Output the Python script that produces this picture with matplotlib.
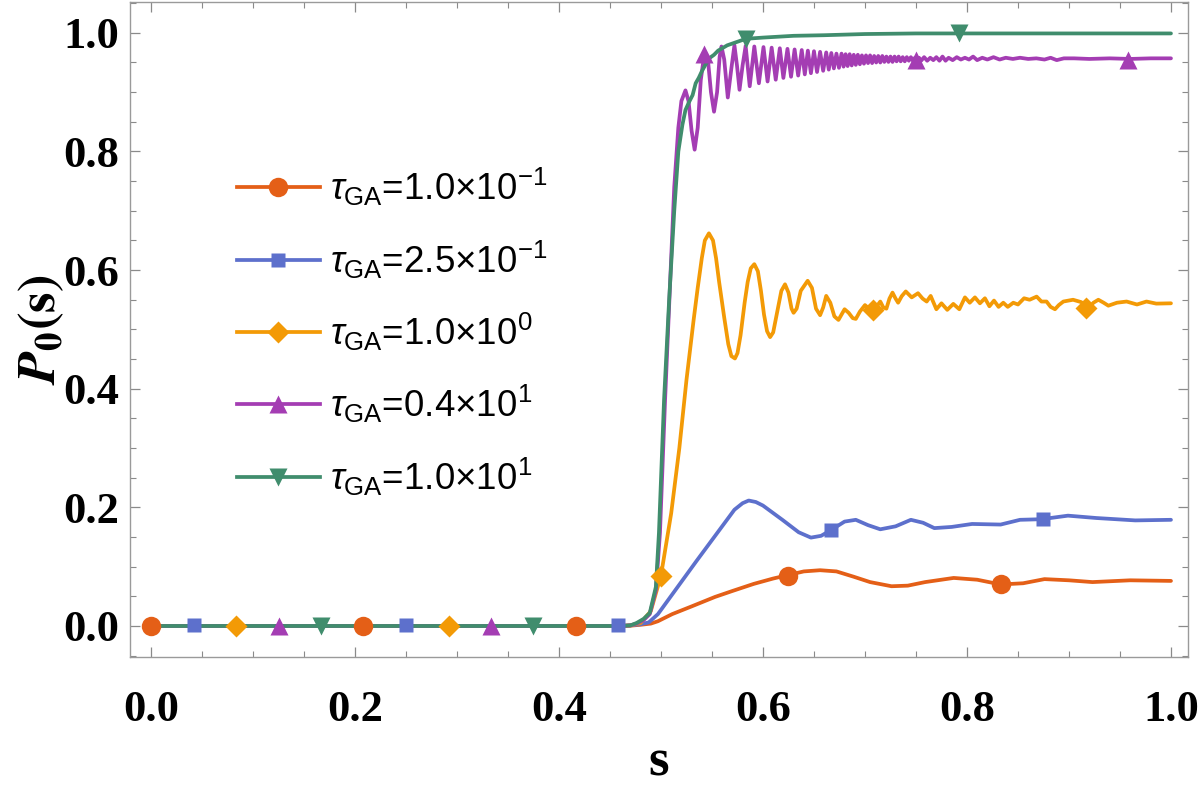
import matplotlib
matplotlib.use("Agg")
import matplotlib.pyplot as plt
from matplotlib.ticker import MultipleLocator, FormatStrFormatter

plt.rcParams['mathtext.fontset'] = 'custom'
plt.rcParams['mathtext.rm'] = 'Liberation Sans'
plt.rcParams['mathtext.it'] = 'Liberation Sans:italic'
plt.rcParams['mathtext.bf'] = 'Liberation Sans:bold'

# ---------------- data ----------------
labels = [r'$\tau_{\mathrm{GA}}$=1.0×10$^{-1}$',
          r'$\tau_{\mathrm{GA}}$=2.5×10$^{-1}$',
          r'$\tau_{\mathrm{GA}}$=1.0×10$^{0}$',
          r'$\tau_{\mathrm{GA}}$=0.4×10$^{1}$',
          r'$\tau_{\mathrm{GA}}$=1.0×10$^{1}$']

red_s = [0, 0.46, 0.47, 0.48, 0.49, 0.497, 0.511, 0.53, 0.553, 0.57, 0.591, 0.61,
         0.625, 0.64, 0.656, 0.672, 0.689, 0.705, 0.726, 0.742, 0.759, 0.787, 0.81,
         0.833, 0.855, 0.876, 0.9, 0.923, 0.96, 1.0]
red_p = [0, 0, 0.0005, 0.002, 0.004, 0.008, 0.02, 0.033, 0.049, 0.059, 0.071, 0.080,
         0.086, 0.092, 0.094, 0.092, 0.083, 0.074, 0.067, 0.068, 0.074, 0.081, 0.078,
         0.070, 0.072, 0.079, 0.077, 0.074, 0.077, 0.076]

blue_s = [0, 0.46, 0.47, 0.48, 0.488, 0.497, 0.535, 0.572, 0.580, 0.586, 0.593, 0.60,
          0.619, 0.635, 0.647, 0.657, 0.667, 0.68, 0.691, 0.703, 0.715, 0.73, 0.745,
          0.757, 0.768, 0.785, 0.805, 0.833, 0.852, 0.873, 0.899, 0.927, 0.965, 1.0]
blue_p = [0, 0, 0.001, 0.003, 0.006, 0.02, 0.11, 0.196, 0.207, 0.2115, 0.209, 0.203,
          0.179, 0.158, 0.149, 0.152, 0.162, 0.176, 0.179, 0.170, 0.163, 0.168, 0.179,
          0.174, 0.165, 0.167, 0.172, 0.171, 0.179, 0.180, 0.186, 0.182, 0.178, 0.179]

orange_s = [0, 0.46, 0.47, 0.48, 0.49, 0.50, 0.51, 0.518, 0.525, 0.532, 0.536, 0.540,
            0.543, 0.547, 0.551, 0.554, 0.557, 0.562, 0.566, 0.569, 0.5725, 0.575, 0.578,
            0.582, 0.585, 0.588, 0.5915, 0.595, 0.598, 0.601, 0.604, 0.607, 0.610, 0.614,
            0.618, 0.6216, 0.625, 0.628, 0.630, 0.633, 0.637, 0.6438, 0.648, 0.652, 0.656,
            0.659, 0.662, 0.666, 0.670, 0.674, 0.677, 0.680, 0.684, 0.688, 0.691, 0.695,
            0.700, 0.704, 0.708, 0.712, 0.715, 0.718, 0.721, 0.724, 0.727, 0.730, 0.7325,
            0.736, 0.740, 0.7458, 0.752, 0.7565, 0.7605, 0.7644, 0.770, 0.775, 0.7807,
            0.7866, 0.7925, 0.798, 0.8027, 0.8078, 0.8127, 0.8176, 0.822, 0.8265, 0.831,
            0.8356, 0.840, 0.8454, 0.850, 0.856, 0.8614, 0.8683, 0.873, 0.878, 0.882,
            0.8863, 0.890, 0.8945, 0.904, 0.912, 0.919, 0.924, 0.9288, 0.934, 0.9386,
            0.947, 0.9565, 0.9667, 0.976, 0.9856, 1.0]
orange_p = [0, 0, 0.001, 0.005, 0.025, 0.085, 0.19, 0.30, 0.415, 0.516, 0.57, 0.62,
            0.65, 0.662, 0.65, 0.62, 0.58, 0.52, 0.475, 0.455, 0.451, 0.46, 0.49,
            0.545, 0.58, 0.603, 0.610, 0.598, 0.565, 0.525, 0.497, 0.487, 0.495, 0.53,
            0.565, 0.576, 0.562, 0.535, 0.528, 0.535, 0.565, 0.582, 0.57, 0.535, 0.524,
            0.537, 0.5565, 0.545, 0.522, 0.516, 0.525, 0.534, 0.528, 0.519, 0.5177, 0.530,
            0.541, 0.535, 0.532, 0.54, 0.547, 0.537, 0.535, 0.552, 0.562, 0.552, 0.545,
            0.556, 0.564, 0.554, 0.561, 0.552, 0.547, 0.5565, 0.534, 0.544, 0.533,
            0.543, 0.534, 0.554, 0.545, 0.554, 0.544, 0.5525, 0.539, 0.5486, 0.538,
            0.545, 0.538, 0.545, 0.542, 0.5525, 0.550, 0.5553, 0.547, 0.547, 0.538,
            0.534, 0.541, 0.547, 0.550, 0.546, 0.536, 0.545, 0.550, 0.545, 0.540,
            0.545, 0.547, 0.542, 0.547, 0.5435, 0.544]

purple_s = [0, 0.46, 0.47, 0.476, 0.483, 0.489, 0.495, 0.499, 0.504, 0.509, 0.513, 0.517,
            0.520, 0.524, 0.527, 0.530, 0.533, 0.536, 0.539, 0.5425, 0.546, 0.549, 0.552,
            0.555, 0.5575, 0.5593, 0.562, 0.5655, 0.569, 0.572, 0.5745, 0.577, 0.580,
            0.583, 0.587, 0.5915, 0.596, 0.6005, 0.6045, 0.6085, 0.6125, 0.6165, 0.620,
            0.624, 0.6275, 0.631, 0.6345, 0.638, 0.641, 0.644, 0.647, 0.650, 0.653, 0.656,
            0.659, 0.662, 0.6645, 0.667, 0.6695, 0.672, 0.6745, 0.677, 0.679, 0.681, 0.683,
            0.685, 0.687, 0.689, 0.691, 0.693, 0.695, 0.697, 0.699, 0.701, 0.703, 0.705,
            0.707, 0.709, 0.711, 0.713, 0.715, 0.717, 0.719, 0.721, 0.723, 0.725, 0.727,
            0.729, 0.731, 0.733, 0.735, 0.737, 0.739, 0.741, 0.743, 0.745, 0.747, 0.749,
            0.751, 0.753, 0.755, 0.758, 0.761, 0.764, 0.767, 0.770, 0.773, 0.776, 0.779,
            0.782, 0.786, 0.790, 0.794, 0.798, 0.802, 0.806, 0.810, 0.815, 0.820, 0.826,
            0.832, 0.838, 0.845, 0.852, 0.860, 0.868, 0.876, 0.882, 0.888, 0.895, 0.905,
            0.92, 0.94, 0.96, 0.98, 1.0]
purple_p = [0, 0, 0.001, 0.004, 0.01, 0.02, 0.06, 0.157, 0.381, 0.58, 0.74, 0.84,
            0.885, 0.903, 0.885, 0.835, 0.803, 0.84, 0.92, 0.965, 0.955, 0.90, 0.867,
            0.90, 0.96, 0.977, 0.955, 0.891, 0.94, 0.979, 0.945, 0.904, 0.945,
            0.978, 0.910, 0.977, 0.915, 0.976, 0.918, 0.975, 0.921, 0.974, 0.924,
            0.973, 0.926, 0.972, 0.928, 0.971, 0.930, 0.970, 0.932, 0.969, 0.934, 0.968,
            0.936, 0.967, 0.938, 0.966, 0.940, 0.965, 0.941, 0.965, 0.943, 0.964, 0.944,
            0.964, 0.945, 0.963, 0.946, 0.963, 0.947, 0.962, 0.948, 0.962, 0.949, 0.962,
            0.949, 0.961, 0.950, 0.961, 0.950, 0.961, 0.951, 0.960, 0.951, 0.960, 0.951,
            0.960, 0.952, 0.960, 0.952, 0.959, 0.952, 0.959, 0.953, 0.959, 0.953, 0.958,
            0.953, 0.958, 0.953, 0.959, 0.953, 0.958, 0.954, 0.959, 0.953, 0.960, 0.953,
            0.958, 0.954, 0.959, 0.955, 0.958, 0.955, 0.960, 0.954, 0.958, 0.955, 0.959,
            0.955, 0.958, 0.956, 0.958, 0.956, 0.957, 0.955, 0.958, 0.954, 0.957, 0.957,
            0.956, 0.957, 0.956, 0.957, 0.957]

green_s = [0, 0.46, 0.47, 0.476, 0.483, 0.489, 0.495, 0.498, 0.503, 0.508, 0.513, 0.517,
           0.521, 0.524, 0.528, 0.531, 0.534, 0.537, 0.540, 0.5435, 0.548, 0.552, 0.556,
           0.565, 0.575, 0.5833, 0.60, 0.63, 0.66, 0.70, 0.75, 0.80, 1.0]
green_p = [0, 0, 0.001, 0.005, 0.012, 0.022, 0.066, 0.157, 0.381, 0.55, 0.70, 0.80,
           0.845, 0.87, 0.885, 0.895, 0.915, 0.924, 0.935, 0.946, 0.958, 0.963, 0.970,
           0.979, 0.985, 0.990, 0.992, 0.995, 0.996, 0.998, 0.999, 0.999, 0.999]

# marker positions along each curve
red_ms = [0, 0.2083, 0.4167, 0.625, 0.8333]
red_my = [0, 0, 0, 0.085, 0.070]
blue_ms = [0.0417, 0.25, 0.4583, 0.6667, 0.875]
blue_my = [0.002, 0.002, 0.002, 0.162, 0.180]
orange_ms = [0.0833, 0.2917, 0.5, 0.7083, 0.9167]
orange_my = [0, 0, 0.085, 0.532, 0.536]
purple_ms = [0.125, 0.3333, 0.5417, 0.75, 0.9583]
purple_my = [0, 0, 0.965, 0.955, 0.955]
green_ms = [0.1667, 0.375, 0.5833, 0.7917]
green_my = [0, 0, 0.99, 0.999]

xticks = [0.0, 0.2, 0.4, 0.6, 0.8, 1.0]
yticks = [0.0, 0.2, 0.4, 0.6, 0.8, 1.0]

colors = ['#E45F17', '#5D70CC', '#F39A06', '#A43DB3', '#408D6D']
markers = ['o', 's', 'D', '^', 'v']
msizes = [14, 10, 11, 13, 13]

# ---------------- plot ----------------
fig = plt.figure(figsize=(12, 7.86), dpi=100)
ax = fig.add_axes([130/1200, 1-657/786, (1188-130)/1200, (657-2)/786])

series = [(red_s, red_p, red_ms, red_my), (blue_s, blue_p, blue_ms, blue_my),
          (orange_s, orange_p, orange_ms, orange_my), (purple_s, purple_p, purple_ms, purple_my),
          (green_s, green_p, green_ms, green_my)]

LW = 2.7
handles = []
for i, (s, p, ms_, my_) in enumerate(series):
    ax.plot(s, p, color=colors[i], lw=LW, zorder=2 + i * 0.1,
            solid_joinstyle='round', solid_capstyle='round')
    ax.plot(ms_, my_, ls='none', marker=markers[i], ms=msizes[i], color=colors[i],
            mec='none', zorder=5)
    h, = ax.plot([], [], color=colors[i], lw=LW, marker=markers[i], ms=msizes[i],
                 mec='none', label=labels[i])
    handles.append(h)

ax.set_xlim(-0.0206, 1.0167)
ax.set_ylim(-0.0523, 1.052)
ax.set_xticks(xticks)
ax.set_yticks(yticks)
ax.xaxis.set_minor_locator(MultipleLocator(0.05))
ax.yaxis.set_minor_locator(MultipleLocator(0.05))
ax.xaxis.set_major_formatter(FormatStrFormatter('%.1f'))
ax.yaxis.set_major_formatter(FormatStrFormatter('%.1f'))

for lab in ax.get_xticklabels() + ax.get_yticklabels():
    lab.set_fontfamily('Liberation Serif')
    lab.set_fontweight('bold')
    lab.set_fontsize(32)

ax.tick_params(which='both', direction='in', top=True, right=True, color='#8a8a8a')
ax.tick_params(which='major', length=7, width=0.9)
ax.tick_params(which='minor', length=4, width=0.8)
ax.tick_params(axis='x', which='major', pad=24)
ax.tick_params(axis='y', which='major', pad=8)
for sp in ax.spines.values():
    sp.set_color('#9a9a9a')
    sp.set_linewidth(1.0)

fig.text(659/1200, 1-776/786, 's', ha='center', va='baseline',
         fontfamily='Liberation Serif', fontweight='bold', fontsize=38)
fig.text(40/1200, 1-330/786, r'$\mathbfit{P}_{\mathbf{0}}\mathbf{(s)}$', ha='center', va='center',
         rotation=90, fontsize=38, math_fontfamily='stix')

leg = ax.legend(handles=handles, loc='upper left', bbox_to_anchor=(237/1200, 1-166/786),
                bbox_transform=fig.transFigure, frameon=False, fontsize=26.5,
                handlelength=2.25, handletextpad=0.28, labelspacing=0.82, borderpad=0,
                borderaxespad=0)
for t in leg.get_texts():
    t.set_fontfamily('Liberation Sans')

fig.savefig('out.png', dpi=100)
